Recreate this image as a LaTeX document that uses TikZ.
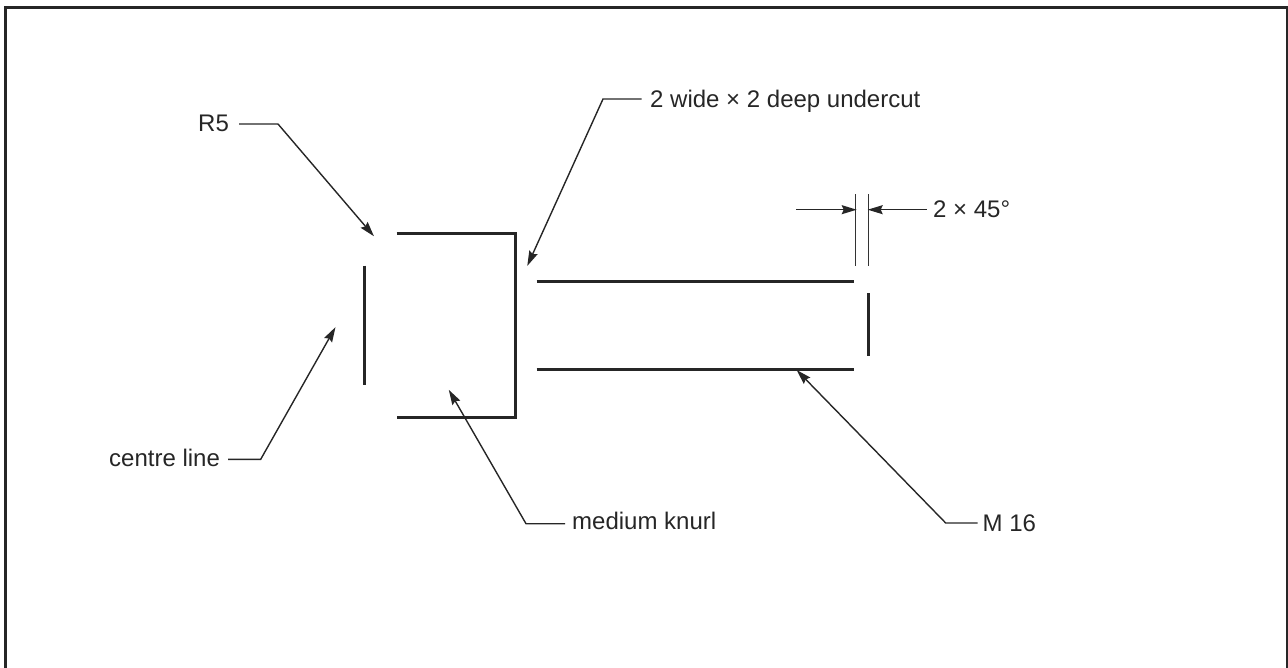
\documentclass[tikz,border=0pt]{standalone}
\usepackage{fontspec}
\setmainfont{Liberation Sans}
\usetikzlibrary{arrows.meta}
\tikzset{
  x=1pt,y=-1pt,
  frame/.style={line width=2.8pt,color=black!85},
  part/.style={line width=2.7pt,color=black!85},
  thin line/.style={line width=1.3pt,color=black!80},
  leader/.style={line width=1.4pt,color=black!85,-{Stealth[length=15pt,width=9pt,inset=2pt]},shorten >=-1pt},
  lab/.style={font=\fontsize{24}{26}\selectfont,color=black!85,inner sep=0pt}
}
\begin{document}
\begin{tikzpicture}
\useasboundingbox (0,0) rectangle (1288,668);
\draw[frame] (5.6,668) -- (5.6,7.5) -- (1287.6,7.5) -- (1287.6,668);
% part
\coordinate (a1) at (396.5,233.3); \coordinate (a2) at (515.7,233.3); \coordinate (a3) at (515.7,417.3); \coordinate (a4) at (396.5,417.3);
\draw[part] (a1) -- (a2) -- (a3) -- (a4);
\coordinate (cl1) at (364.2,265.7); \coordinate (cl2) at (364.2,385);
\draw[part] (cl1) -- (cl2);
\coordinate (t1) at (536.7,281.3); \coordinate (t2) at (854,281.3);
\coordinate (b1) at (536.7,369.2); \coordinate (b2) at (854,369.2);
\draw[part] (t1) -- (t2);
\draw[part] (b1) -- (b2);
\coordinate (e1) at (868.7,293.3); \coordinate (e2) at (868.7,355.7);
\draw[part] (e1) -- (e2);
% chamfer lines
\coordinate (c1a) at (855.7,194.3); \coordinate (c1b) at (855.7,266);
\coordinate (c2a) at (868.7,194.3); \coordinate (c2b) at (868.7,266);
\draw[thin line] (c1a) -- (c1b);
\draw[thin line] (c2a) -- (c2b);
% labels
\node[lab,anchor=base west] (r5) at (198,132) {R5};
\node[lab,anchor=base west] (uc) at (650,107.3) {2 wide × 2 deep undercut};
\node[lab,anchor=base west] (ch) at (933,218) {2 × 45°};
\node[lab,anchor=base west] (cl) at (109,466.7) {centre line};
\node[lab,anchor=base west] (mk) at (572,529) {medium knurl};
\node[lab,anchor=base west] (m16) at (982.5,531) {M 16};
% leaders
\coordinate (r5s) at (239,124); \coordinate (r5k) at (278,124); \coordinate (r5t) at (373.3,235.5);
\draw[leader] (r5s) -- (r5k) -- (r5t);
\coordinate (ucs) at (641.7,99); \coordinate (uck) at (603,99); \coordinate (uct) at (527.7,265);
\draw[leader] (ucs) -- (uck) -- (uct);
\coordinate (cls) at (228,459.3); \coordinate (clk) at (260.7,459.3); \coordinate (clt) at (335,328);
\draw[leader] (cls) -- (clk) -- (clt);
\coordinate (mks) at (565,523.7); \coordinate (mkk) at (526,523.7); \coordinate (mkt) at (449.3,390.7);
\draw[leader] (mks) -- (mkk) -- (mkt);
\coordinate (ms) at (977.7,523); \coordinate (mk2) at (945.7,523); \coordinate (mt) at (797.3,370.7);
\draw[leader] (ms) -- (mk2) -- (mt);
\coordinate (als) at (796,209.7); \draw[leader] (als) -- (c1a |- als);
\coordinate (ars) at (926.7,209.7); \draw[leader] (ars) -- (c2a |- ars);
\end{tikzpicture}
\end{document}
